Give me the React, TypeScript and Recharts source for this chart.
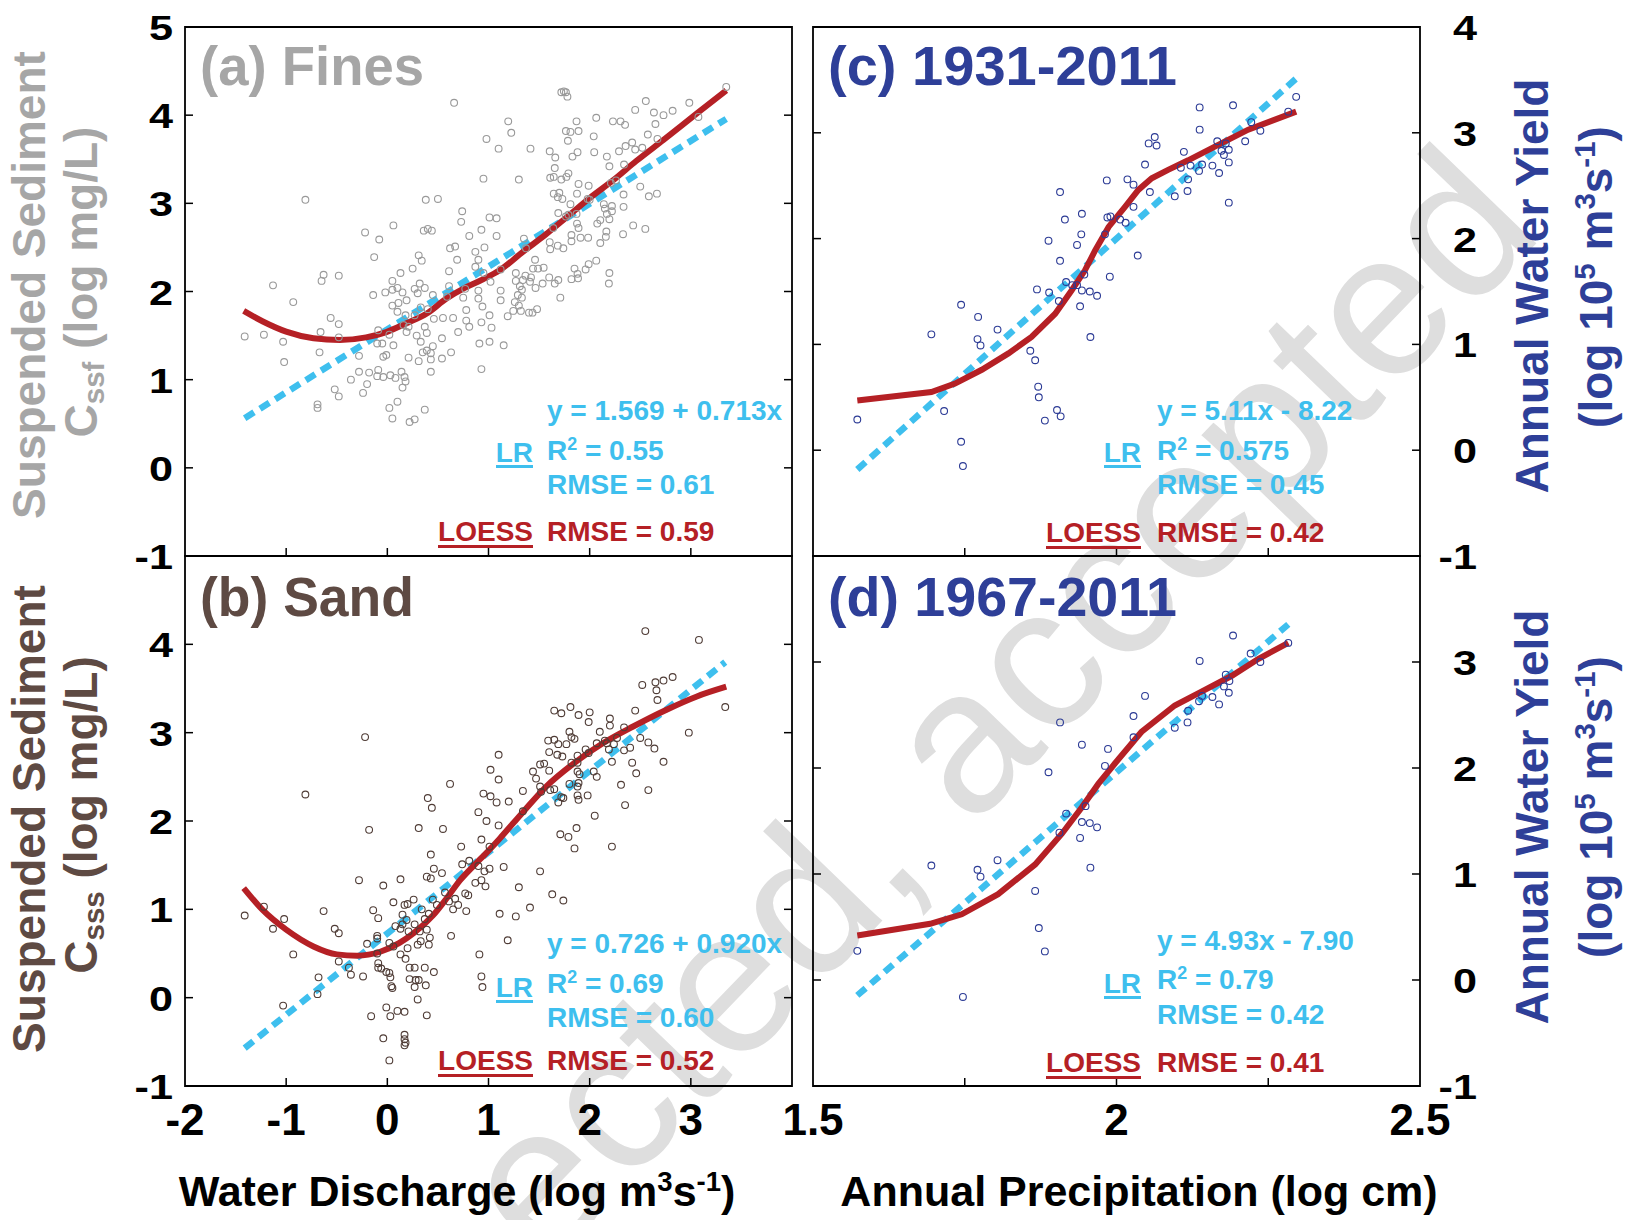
import React from 'react';
import { ComposedChart, Scatter, Line, XAxis, YAxis, ReferenceArea } from 'recharts';

const W = 1628;
const H = 1220;
const FONT = '"Liberation Sans", Arial, Helvetica, sans-serif';
const INK = '#000000';
const CYAN = '#3ebfee';
const RED = '#b52025';
const NAVY = '#2e3f98';
const GRAY = '#a6a6a6';
const BROWN = '#5e4a43';
const TICK = 8;

type Pt = [number, number];

// (a) log water discharge vs log fine-sediment concentration
const FINES: Pt[] = [
  [0.66, 4.14], [0.98, 3.73], [1.1, 3.62], [0.95, 3.28], [-0.81, 3.04], [0.38, 3.04], [0.5, 3.05], [0.74, 2.91],
  [0.73, 2.79], [1.01, 2.84], [1.08, 2.83], [0.06, 2.75], [-0.22, 2.67], [0.36, 2.69], [0.4, 2.71], [0.44, 2.69],
  [0.93, 2.7], [-0.08, 2.59], [0.81, 2.63], [1.08, 2.63], [0.62, 2.49], [0.67, 2.51], [0.96, 2.5], [-0.13, 2.39],
  [0.31, 2.41], [0.34, 2.35], [0.69, 2.36], [0.87, 2.45], [0.9, 2.36], [0.25, 2.26], [0.13, 2.21], [0.61, 2.23],
  [0.87, 2.28], [-0.63, 2.19], [-0.65, 2.12], [-0.48, 2.18], [-1.13, 2.07], [0.05, 2.12], [0.32, 2.09], [-0.02, 1.99],
  [0.05, 2.02], [0.1, 2.04], [0.15, 1.99], [0.27, 2.03], [0.37, 2.04], [0.3, 1.98], [-0.14, 1.96], [0.45, 1.96],
  [0.61, 2.06], [0.77, 2.03], [0.9, 2.01], [1.02, 2.11], [0.95, 2.21], [-0.93, 1.88], [0.05, 1.84], [0.11, 1.87],
  [0.19, 1.9], [0.1, 1.77], [0.18, 1.73], [0.4, 1.8], [0.33, 1.82], [0.59, 1.94], [0.75, 1.93], [0.9, 1.92],
  [0.94, 1.83], [0.78, 1.79], [-0.56, 1.7], [-0.48, 1.63], [0.16, 1.62], [0.27, 1.73], [0.46, 1.69], [0.55, 1.7],
  [0.65, 1.7], [0.78, 1.67], [1.01, 1.73], [0.93, 1.65], [1.03, 1.59], [0.81, 1.6], [0.7, 1.54], [-0.66, 1.54],
  [-0.09, 1.56], [0.02, 1.51], [0.21, 1.6], [0.19, 1.54], [0.29, 1.5], [0.37, 1.6], [0.39, 1.53], [0.54, 1.47],
  [-1.41, 1.49], [-1.22, 1.51], [-1.03, 1.43], [-0.48, 1.48], [-0.1, 1.41], [-0.05, 1.41], [0.06, 1.39], [0.33, 1.43],
  [0.45, 1.38], [0.39, 1.33], [0.91, 1.41], [1.01, 1.43], [-0.67, 1.31], [-0.28, 1.27], [-0.04, 1.26], [-0.01, 1.28],
  [0.21, 1.25], [0.31, 1.21], [0.35, 1.31], [0.43, 1.3], [0.43, 1.23], [0.54, 1.24], [0.63, 1.31], [-1.02, 1.2],
  [0.93, 1.12], [0.43, 1.09], [-0.36, 1.0], [-0.28, 1.09], [-0.18, 1.08], [-0.09, 1.11], [-0.1, 1.04], [-0.04, 1.03],
  [0.03, 1.05], [0.08, 1.02], [0.14, 1.09], [0.17, 1.03], [0.18, 0.98], [0.15, 0.91], [-0.2, 0.95], [-0.24, 0.85],
  [-0.52, 0.89], [-0.48, 0.81], [-0.69, 0.72], [-0.69, 0.68], [0.1, 0.75], [0.02, 0.68], [0.05, 0.56], [0.37, 0.66],
  [0.22, 0.52], [0.27, 0.55],
  [3.35, 4.32], [1.72, 4.26], [1.745, 4.27], [1.765, 4.26], [1.78, 4.21], [2.555, 4.16], [2.985, 4.14], [2.45, 4.06],
  [2.635, 4.03], [2.73, 4.0], [2.82, 4.05], [3.075, 3.98], [1.195, 3.93], [1.87, 3.93], [2.065, 3.97], [2.23, 3.93],
  [2.305, 3.93], [2.35, 3.89], [2.65, 3.9], [1.225, 3.8], [1.765, 3.82], [1.81, 3.81], [1.89, 3.82], [2.04, 3.76],
  [1.785, 3.71], [2.575, 3.78], [2.67, 3.73], [1.415, 3.62], [2.355, 3.65], [2.42, 3.69], [2.45, 3.61], [2.52, 3.63],
  [1.605, 3.59], [1.66, 3.52], [1.83, 3.53], [1.88, 3.58], [2.045, 3.58], [2.17, 3.53], [2.29, 3.59], [2.195, 3.42],
  [1.655, 3.4], [2.34, 3.44], [1.3, 3.27], [1.61, 3.29], [1.645, 3.3], [1.72, 3.27], [1.77, 3.3], [1.79, 3.34],
  [1.89, 3.22], [1.99, 3.2], [2.21, 3.23], [2.26, 3.26], [2.5, 3.19], [1.645, 3.11], [1.7, 3.12], [1.685, 3.07],
  [1.73, 3.05], [1.875, 3.11], [1.98, 3.05], [2.0, 3.04], [2.335, 3.1], [2.585, 3.08], [2.665, 3.11], [1.81, 2.99],
  [2.14, 2.99], [2.22, 2.97], [2.22, 2.91], [2.335, 2.96], [1.69, 2.89], [1.765, 2.85], [1.79, 2.87], [1.87, 2.88],
  [2.15, 2.94], [2.17, 2.88], [1.875, 2.77], [1.89, 2.72], [2.075, 2.77], [2.105, 2.81], [2.195, 2.82], [2.43, 2.75],
  [2.55, 2.71], [2.33, 2.65], [1.64, 2.72], [1.82, 2.64], [1.91, 2.61], [1.985, 2.61], [2.165, 2.68], [2.16, 2.62],
  [1.82, 2.57], [2.105, 2.55], [1.35, 2.6], [1.37, 2.49], [1.605, 2.56], [1.685, 2.52], [1.74, 2.49], [1.61, 2.48],
  [1.46, 2.36], [2.065, 2.35], [1.99, 2.31], [1.12, 2.25], [1.44, 2.26], [1.49, 2.26], [1.545, 2.27], [1.85, 2.26],
  [1.96, 2.25], [2.195, 2.21], [1.88, 2.2], [1.27, 2.21], [1.365, 2.18], [1.34, 2.13], [1.42, 2.16], [1.41, 2.11],
  [1.535, 2.09], [1.6, 2.16], [1.69, 2.13], [1.655, 2.09], [1.82, 2.14], [1.885, 2.15], [2.19, 2.09], [1.31, 2.06],
  [1.33, 2.02], [1.465, 2.04], [1.12, 2.01], [1.12, 1.9], [1.27, 2.12], [1.29, 1.96], [1.33, 1.93], [1.71, 1.93],
  [1.26, 1.88], [1.245, 1.78], [1.3, 1.84], [1.32, 1.78], [1.19, 1.72], [1.4, 1.76], [1.435, 1.76], [1.48, 1.8],
  [1.15, 1.39],
];

// (b) log water discharge vs log sand concentration
const SAND: Pt[] = [
  [-0.22, 2.95], [-0.81, 2.3], [-0.18, 1.9], [0.62, 2.42], [0.4, 2.26], [0.44, 2.15], [0.31, 1.92], [0.55, 1.91],
  [0.9, 2.1], [0.98, 2.0], [0.95, 2.31], [1.02, 2.28], [1.02, 2.58], [1.1, 2.75], [1.1, 2.47], [1.08, 2.21],
  [1.1, 1.95], [0.93, 1.79], [1.01, 1.71], [0.43, 1.62], [0.46, 1.46], [0.54, 1.41], [0.73, 1.71], [0.74, 1.51],
  [0.81, 1.55], [0.39, 1.37], [0.43, 1.35], [-0.28, 1.33], [-0.04, 1.27], [0.13, 1.34], [0.9, 1.49], [0.87, 1.3],
  [0.93, 1.33], [0.97, 1.26], [0.96, 1.43], [1.01, 1.46], [0.77, 1.18], [0.8, 1.16], [0.57, 1.19], [0.61, 1.09],
  [0.67, 1.12], [0.7, 1.05], [0.65, 1.0], [0.78, 0.98], [0.49, 1.05], [0.45, 1.11], [0.26, 1.11], [0.2, 1.06],
  [0.17, 1.05], [0.06, 1.08], [-0.14, 0.99], [-0.09, 0.9], [0.34, 1.0], [0.41, 0.95], [0.37, 0.89], [0.15, 0.94],
  [0.19, 0.88], [0.15, 0.83], [0.27, 0.83], [0.08, 0.81], [0.13, 0.78], [0.21, 0.75], [0.32, 0.75], [0.39, 0.77],
  [0.42, 0.68], [0.33, 0.64], [0.3, 0.6], [0.41, 0.6], [0.2, 0.56], [0.63, 0.7], [-0.1, 0.7], [-0.1, 0.67],
  [-0.2, 0.61], [0.02, 0.62], [0.06, 0.58], [-0.1, 0.5], [0.13, 0.49], [0.18, 0.44], [-0.09, 0.39], [-0.09, 0.34],
  [-0.06, 0.33], [-0.01, 0.29], [0.02, 0.28], [0.03, 0.23], [0.04, 0.13], [0.05, 0.11], [0.22, 0.34], [0.27, 0.34],
  [0.37, 0.34], [0.46, 0.29], [0.22, 0.21], [0.28, 0.2], [0.31, 0.2], [0.27, 0.12], [0.38, 0.14], [0.3, -0.02],
  [0.91, 0.49], [0.93, 0.24], [0.94, 0.12], [1.11, 0.95], [-1.41, 0.93], [-1.22, 1.03], [-1.13, 0.78], [-1.02, 0.89],
  [-0.63, 0.98], [-0.52, 0.78], [-0.48, 0.73], [-0.93, 0.49], [-0.48, 0.41], [-0.38, 0.34], [-0.36, 0.26], [-0.24, 0.24],
  [-0.68, 0.23], [-0.69, 0.04], [-1.03, -0.09], [-0.16, -0.21], [-0.01, -0.11], [0.03, -0.21], [0.1, -0.15], [0.17, -0.16],
  [0.39, -0.2], [-0.04, -0.46], [0.17, -0.42], [0.17, -0.47], [0.18, -0.51], [0.17, -0.54], [0.02, -0.71],
  [2.55, 4.15], [3.08, 4.05], [2.52, 3.54], [2.65, 3.57], [2.73, 3.59], [2.82, 3.63], [2.66, 3.48], [2.67, 3.37],
  [3.34, 3.29], [2.45, 3.25], [1.65, 3.25], [1.72, 3.22], [1.81, 3.29], [1.89, 3.2], [2.0, 3.23], [1.99, 3.12],
  [2.2, 3.16], [2.2, 3.08], [2.34, 3.06], [2.1, 3.01], [2.98, 3.0], [1.59, 2.91], [1.65, 2.92], [1.69, 2.87],
  [1.77, 2.87], [1.8, 3.01], [1.82, 2.95], [1.85, 2.93], [2.07, 2.88], [2.15, 2.91], [2.17, 2.88], [2.27, 2.94],
  [2.24, 2.87], [2.5, 2.94], [2.58, 2.89], [2.64, 2.82], [1.96, 2.81], [1.99, 2.77], [1.6, 2.78], [1.68, 2.75],
  [1.73, 2.73], [1.88, 2.74], [1.82, 2.66], [1.88, 2.66], [2.19, 2.81], [2.34, 2.8], [2.4, 2.83], [2.22, 2.67],
  [2.42, 2.66], [2.46, 2.54], [2.73, 2.67], [1.51, 2.64], [1.55, 2.65], [1.44, 2.56], [1.47, 2.48], [1.6, 2.57],
  [1.88, 2.56], [1.9, 2.53], [2.04, 2.56], [2.07, 2.5], [1.89, 2.43], [1.8, 2.42], [1.88, 2.39], [1.51, 2.39],
  [1.52, 2.33], [1.61, 2.35], [1.65, 2.36], [1.72, 2.27], [1.74, 2.26], [1.69, 2.21], [1.88, 2.29], [1.89, 2.24],
  [1.98, 2.29], [2.31, 2.41], [2.58, 2.35], [2.35, 2.18], [1.34, 2.34], [1.2, 2.22], [1.34, 2.11], [2.05, 2.06],
  [1.87, 1.92], [1.71, 1.85], [1.79, 1.82], [1.85, 1.69], [2.22, 1.71], [1.51, 1.43], [1.15, 1.48], [1.3, 1.25],
  [1.63, 1.17], [1.74, 1.1], [1.41, 1.02], [1.27, 0.92], [1.19, 0.65],
];

// (c) log annual precipitation vs log annual water yield, 1931-2011
const YIELD_1931: Pt[] = [
  [1.573, 0.29], [1.695, 1.095], [1.716, 0.37], [1.744, 1.375], [1.744, 0.08], [1.747, -0.15], [1.772, 1.26],
  [1.771, 1.05], [1.776, 0.99], [1.804, 1.14], [1.858, 0.94], [1.866, 0.85], [1.871, 0.6], [1.872, 0.5],
  [1.882, 0.28], [1.902, 0.38], [1.908, 0.32], [1.869, 1.52], [1.889, 1.49], [1.905, 1.41], [1.888, 1.98],
  [1.907, 1.79], [1.907, 2.44], [1.915, 2.18], [1.917, 1.59], [1.927, 1.56], [1.935, 1.56], [1.943, 1.51],
  [1.947, 1.66], [1.94, 1.36], [1.957, 1.07], [1.956, 1.5], [1.968, 1.46], [1.989, 1.64], [1.942, 2.04],
  [1.935, 1.94], [1.943, 2.235], [1.984, 2.55], [1.981, 2.04], [1.985, 2.2], [1.99, 2.21], [2.006, 2.18],
  [2.015, 2.15], [2.028, 2.3], [2.035, 1.84], [2.018, 2.56], [2.028, 2.51], [2.047, 2.7], [2.055, 2.44],
  [2.053, 2.9], [2.063, 2.96], [2.066, 2.88], [2.096, 2.4], [2.106, 2.67], [2.111, 2.82], [2.118, 2.56],
  [2.117, 2.45], [2.122, 2.69], [2.136, 2.64], [2.137, 3.03], [2.137, 3.24], [2.141, 2.7], [2.158, 2.69],
  [2.169, 2.62], [2.166, 2.92], [2.173, 2.83], [2.177, 2.79], [2.18, 2.9], [2.185, 2.84], [2.185, 2.72],
  [2.185, 2.34], [2.192, 3.26], [2.212, 2.92], [2.222, 3.1], [2.237, 3.02], [2.283, 3.2], [2.296, 3.34],
];

// (d) same relation, 1967-2011
const YIELD_1967: Pt[] = [
  [1.573, 0.275], [1.695, 1.08], [1.747, -0.16], [1.771, 1.04], [1.776, 0.975], [1.804, 1.13], [1.866, 0.84],
  [1.872, 0.49], [1.882, 0.27], [1.888, 1.96], [1.907, 2.43], [1.906, 1.39], [1.917, 1.57], [1.94, 1.34],
  [1.943, 1.49], [1.943, 2.22], [1.949, 1.64], [1.956, 1.48], [1.957, 1.06], [1.968, 1.44], [1.981, 2.02],
  [1.986, 2.18], [2.028, 2.49], [2.028, 2.29], [2.047, 2.68], [2.096, 2.38], [2.117, 2.43], [2.118, 2.54],
  [2.136, 2.63], [2.137, 3.01], [2.141, 2.68], [2.158, 2.67], [2.169, 2.6], [2.177, 2.77], [2.18, 2.88],
  [2.186, 2.82], [2.185, 2.71], [2.192, 3.25], [2.221, 3.08], [2.237, 3.0], [2.283, 3.18],
];

// LOESS smooths
const FINES_LOESS: Pt[] = [
  [-1.42, 1.78], [-1.23, 1.66], [-1.0, 1.545], [-0.73, 1.47], [-0.47, 1.45], [-0.21, 1.48], [-0.01, 1.54],
  [0.19, 1.64], [0.39, 1.75], [0.585, 1.92], [0.78, 2.05], [0.95, 2.14], [1.11, 2.24], [1.34, 2.45], [1.57, 2.65],
  [1.77, 2.84], [2.0, 3.06], [2.23, 3.26], [2.46, 3.48], [2.73, 3.72], [3.06, 4.02], [3.35, 4.28],
];
const SAND_LOESS: Pt[] = [
  [-1.42, 1.24], [-1.23, 0.99], [-1.0, 0.77], [-0.73, 0.58], [-0.5, 0.49], [-0.3, 0.475], [-0.07, 0.52],
  [0.12, 0.62], [0.26, 0.73], [0.45, 0.93], [0.59, 1.13], [0.72, 1.33], [0.85, 1.49], [0.98, 1.64], [1.11, 1.8],
  [1.34, 2.1], [1.57, 2.39], [1.84, 2.65], [2.13, 2.88], [2.43, 3.07], [2.76, 3.26], [3.06, 3.41], [3.35, 3.52],
];
const YIELD_1931_LOESS: Pt[] = [
  [1.573, 0.47], [1.695, 0.55], [1.734, 0.63], [1.778, 0.76], [1.822, 0.915], [1.86, 1.07], [1.899, 1.29],
  [1.926, 1.51], [1.948, 1.7], [1.965, 1.89], [1.987, 2.11], [2.014, 2.3], [2.036, 2.46], [2.058, 2.57],
  [2.085, 2.65], [2.118, 2.74], [2.162, 2.87], [2.217, 3.03], [2.296, 3.2],
];
const YIELD_1967_LOESS: Pt[] = [
  [1.573, 0.42], [1.693, 0.53], [1.745, 0.62], [1.805, 0.81], [1.866, 1.09], [1.91, 1.38], [1.943, 1.63],
  [1.97, 1.85], [1.997, 2.04], [2.041, 2.34], [2.096, 2.59], [2.14, 2.72], [2.19, 2.87], [2.234, 3.03], [2.283, 3.18],
];

// linear regressions as printed: intercept, slope
const FINES_LR = [1.569, 0.713];
const SAND_LR = [0.726, 0.92];
const YIELD_1931_LR = [-8.22, 5.11];
const YIELD_1967_LR = [-7.9, 4.93];

const Q_TICKS = [-2, -1, 0, 1, 2, 3, 4];
const Q_LABELS = [-2, -1, 0, 1, 2, 3];
const P_TICKS = [1.5, 1.75, 2, 2.25, 2.5];
const P_LABELS = [1.5, 2, 2.5];
const C_TICKS = [-1, 0, 1, 2, 3, 4, 5];
const Y_TICKS = [-1, 0, 1, 2, 3, 4];

const toPts = (a: Pt[]) => a.map(([x, y]) => ({ x, y }));

function fitLine(a: Pt[], [b0, b1]: number[]) {
  const xs = a.map((p) => p[0]);
  const lo = Math.min(...xs);
  const hi = Math.max(...xs);
  return [
    { x: lo, y: b0 + b1 * lo },
    { x: hi, y: b0 + b1 * hi },
  ];
}

type PanelProps = {
  box: [number, number, number, number];
  xDomain: [number, number];
  yDomain: [number, number];
  xTicks: number[];
  xLabels: number[];
  yTicks: number[];
  yLabels: number[];
  labelSide: 'left' | 'right';
  points: Pt[];
  dotColor: string;
  loess: Pt[];
  loessType: 'monotone' | 'linear';
  lr: number[];
};

function Panel(p: PanelProps) {
  const [l, t, r, b] = p.box;

  const tickX = (props: any) => {
    const { x, payload } = props;
    const v = payload.value;
    const inner = v > p.xDomain[0] && v < p.xDomain[1];
    return (
      <g>
        {inner && <line x1={x} x2={x} y1={b} y2={b - TICK} stroke={INK} strokeWidth={1.5} />}
        {p.xLabels.includes(v) && (
          <text x={x} y={b + 49} textAnchor="middle" fontFamily={FONT} fontWeight="bold" fontSize={44} fill={INK}>
            {String(v)}
          </text>
        )}
      </g>
    );
  };

  const tickY = (props: any) => {
    const { y, payload } = props;
    const v = payload.value;
    const inner = v > p.yDomain[0] && v < p.yDomain[1];
    const lx = p.labelSide === 'left' ? l - 12 : r + 57;
    return (
      <g>
        {inner && <line x1={l} x2={l + TICK} y1={y} y2={y} stroke={INK} strokeWidth={1.5} />}
        {inner && <line x1={r} x2={r - TICK} y1={y} y2={y} stroke={INK} strokeWidth={1.5} />}
        {p.yLabels.includes(v) && (
          <text
            transform={`translate(${lx},${y + 13}) scale(1.2,1)`}
            textAnchor="end"
            fontFamily={FONT}
            fontWeight="bold"
            fontSize={36}
            fill={INK}
          >
            {String(v)}
          </text>
        )}
      </g>
    );
  };

  // axes get a 1px band so they still render; margins absorb it
  return (
    <div style={{ position: 'absolute', left: 0, top: 0 }}>
      <ComposedChart width={W} height={H} margin={{ top: t, left: l - 1, right: W - r, bottom: H - b - 1 }}>
        <XAxis
          type="number"
          dataKey="x"
          domain={p.xDomain}
          ticks={p.xTicks}
          interval={0}
          height={1}
          tickSize={0}
          tickMargin={0}
          tickLine={false}
          axisLine={false}
          tick={tickX}
          allowDataOverflow
        />
        <YAxis
          type="number"
          dataKey="y"
          domain={p.yDomain}
          ticks={p.yTicks}
          interval={0}
          width={1}
          tickSize={0}
          tickMargin={0}
          tickLine={false}
          axisLine={false}
          tick={tickY}
          allowDataOverflow
        />
        <ReferenceArea
          x1={p.xDomain[0]}
          x2={p.xDomain[1]}
          y1={p.yDomain[0]}
          y2={p.yDomain[1]}
          fill="none"
          stroke={INK}
          strokeWidth={1.8}
          ifOverflow="visible"
        />
        <Scatter
          data={toPts(p.points)}
          isAnimationActive={false}
          shape={(s: any) => <circle cx={s.cx} cy={s.cy} r={3.4} fill="none" stroke={p.dotColor} strokeWidth={1.1} />}
        />
        <Line
          data={fitLine(p.points, p.lr)}
          dataKey="y"
          type="linear"
          stroke={CYAN}
          strokeWidth={6.5}
          strokeDasharray="11 7"
          dot={false}
          activeDot={false}
          isAnimationActive={false}
        />
        <Line
          data={toPts(p.loess)}
          dataKey="y"
          type={p.loessType}
          stroke={RED}
          strokeWidth={6}
          dot={false}
          activeDot={false}
          isAnimationActive={false}
        />
      </ComposedChart>
    </div>
  );
}

type Part = [string, '' | 'sup' | 'sub'];

function Rich({ parts, size, ...rest }: { parts: Part[]; size: number; [k: string]: any }) {
  let shift = 0;
  return (
    <text fontFamily={FONT} fontWeight="bold" fontSize={size} {...rest}>
      {parts.map(([s, kind], i) => {
        const target = kind === 'sup' ? -size * 0.36 : kind === 'sub' ? size * 0.16 : 0;
        const dy = target - shift;
        shift = target;
        return (
          <tspan key={i} dy={dy} fontSize={kind ? size * 0.64 : size}>
            {s}
          </tspan>
        );
      })}
    </text>
  );
}

function VTitle({ x, cy, parts, color }: { x: number; cy: number; parts: Part[]; color: string }) {
  return <Rich parts={parts} size={46} fill={color} textAnchor="middle" transform={`translate(${x},${cy}) rotate(-90)`} />;
}

type StatRows = { eq: number; r2: number; lr: number; rmse: number; lo: number };

function Stats({ lx, vx, rows, eq, r2, rmse, loess }: { lx: number; vx: number; rows: StatRows; eq: string; r2: string; rmse: string; loess: string }) {
  const fs = 28;
  const common = { fontFamily: FONT, fontWeight: 'bold', fontSize: fs } as const;
  return (
    <g>
      <text x={vx} y={rows.eq} fill={CYAN} {...common}>{eq}</text>
      <text x={lx} y={rows.lr} fill={CYAN} textAnchor="end" {...common}>LR</text>
      <rect x={lx - 37} y={rows.lr + 3} width={37} height={3} fill={CYAN} />
      <Rich parts={[['R', ''], ['2', 'sup'], [` = ${r2}`, '']]} size={fs} x={vx} y={rows.r2} fill={CYAN} />
      <text x={vx} y={rows.rmse} fill={CYAN} {...common}>{`RMSE = ${rmse}`}</text>
      <text x={lx} y={rows.lo} fill={RED} textAnchor="end" {...common}>LOESS</text>
      <rect x={lx - 95} y={rows.lo + 4} width={95} height={3} fill={RED} />
      <text x={vx} y={rows.lo} fill={RED} {...common}>{`RMSE = ${loess}`}</text>
    </g>
  );
}

const DISCHARGE_TITLE: Part[] = [['Water Discharge (log m', ''], ['3', 'sup'], ['s', ''], ['-1', 'sup'], [')', '']];
const YIELD_UNITS: Part[] = [['(log 10', ''], ['5', 'sup'], [' m', ''], ['3', 'sup'], ['s', ''], ['-1', 'sup'], [')', '']];

export default function App() {
  const LEFT_X: [number, number] = [-2, 4];
  const RIGHT_X: [number, number] = [1.5, 2.5];
  return (
    <div style={{ position: 'absolute', left: 0, top: 0, width: W, height: H, background: '#ffffff', overflow: 'hidden' }}>
      <svg width={W} height={H} style={{ position: 'absolute', left: 0, top: 0 }}>
        <text
          x={545}
          y={1270}
          fontFamily={FONT}
          fontSize={204}
          fill="#dedede"
          transform="rotate(-46 545 1270)"
        >
          ected, accepted
        </text>
      </svg>

      <Panel
        box={[185, 27, 792, 556]}
        xDomain={LEFT_X}
        yDomain={[-1, 5]}
        xTicks={Q_TICKS}
        xLabels={[]}
        yTicks={C_TICKS}
        yLabels={C_TICKS}
        labelSide="left"
        points={FINES}
        dotColor="#999999"
        loess={FINES_LOESS}
        loessType="monotone"
        lr={FINES_LR}
      />
      <Panel
        box={[185, 556, 792, 1086]}
        xDomain={LEFT_X}
        yDomain={[-1, 5]}
        xTicks={Q_TICKS}
        xLabels={Q_LABELS}
        yTicks={C_TICKS}
        yLabels={[-1, 0, 1, 2, 3, 4]}
        labelSide="left"
        points={SAND}
        dotColor="#4f3c36"
        loess={SAND_LOESS}
        loessType="monotone"
        lr={SAND_LR}
      />
      <Panel
        box={[813, 27, 1420, 556]}
        xDomain={RIGHT_X}
        yDomain={[-1, 4]}
        xTicks={P_TICKS}
        xLabels={[]}
        yTicks={Y_TICKS}
        yLabels={Y_TICKS}
        labelSide="right"
        points={YIELD_1931}
        dotColor="#2b3a95"
        loess={YIELD_1931_LOESS}
        loessType="linear"
        lr={YIELD_1931_LR}
      />
      <Panel
        box={[813, 556, 1420, 1086]}
        xDomain={RIGHT_X}
        yDomain={[-1, 4]}
        xTicks={P_TICKS}
        xLabels={P_LABELS}
        yTicks={Y_TICKS}
        yLabels={[-1, 0, 1, 2, 3]}
        labelSide="right"
        points={YIELD_1967}
        dotColor="#2b3a95"
        loess={YIELD_1967_LOESS}
        loessType="linear"
        lr={YIELD_1967_LR}
      />

      <svg width={W} height={H} style={{ position: 'absolute', left: 0, top: 0, pointerEvents: 'none' }}>
        <g fontFamily={FONT} fontWeight="bold" fontSize={56}>
          <text x={200} y={85} fill={GRAY} textLength={224} lengthAdjust="spacingAndGlyphs">(a) Fines</text>
          <text x={200} y={616} fill={BROWN} textLength={214} lengthAdjust="spacingAndGlyphs">(b) Sand</text>
          <text x={828} y={85} fill={NAVY} textLength={349} lengthAdjust="spacingAndGlyphs">(c) 1931-2011</text>
          <text x={828} y={616} fill={NAVY} textLength={349} lengthAdjust="spacingAndGlyphs">(d) 1967-2011</text>
        </g>

        <Rich parts={DISCHARGE_TITLE} size={43} x={457} y={1206} textAnchor="middle" fill={INK} />
        <Rich parts={[['Annual Precipitation (log cm)', '']]} size={43} x={1139} y={1206} textAnchor="middle" fill={INK} />

        <VTitle x={45} cy={285} color={GRAY} parts={[['Suspended Sediment', '']]} />
        <VTitle x={97} cy={282} color={GRAY} parts={[['C', ''], ['ssf', 'sub'], [' (log mg/L)', '']]} />
        <VTitle x={45} cy={819} color={BROWN} parts={[['Suspended Sediment', '']]} />
        <VTitle x={97} cy={815} color={BROWN} parts={[['C', ''], ['sss', 'sub'], [' (log mg/L)', '']]} />
        <VTitle x={1548} cy={286} color={NAVY} parts={[['Annual Water Yield', '']]} />
        <VTitle x={1612} cy={277} color={NAVY} parts={YIELD_UNITS} />
        <VTitle x={1548} cy={817} color={NAVY} parts={[['Annual Water Yield', '']]} />
        <VTitle x={1612} cy={807} color={NAVY} parts={YIELD_UNITS} />

        <Stats lx={533} vx={547} rows={{ eq: 420, r2: 460, lr: 462, rmse: 494, lo: 541 }} eq="y = 1.569 + 0.713x" r2="0.55" rmse="0.61" loess="0.59" />
        <Stats lx={533} vx={547} rows={{ eq: 953, r2: 993, lr: 997, rmse: 1027, lo: 1070 }} eq="y = 0.726 + 0.920x" r2="0.69" rmse="0.60" loess="0.52" />
        <Stats lx={1141} vx={1157} rows={{ eq: 420, r2: 460, lr: 462, rmse: 494, lo: 542 }} eq="y = 5.11x - 8.22" r2="0.575" rmse="0.45" loess="0.42" />
        <Stats lx={1141} vx={1157} rows={{ eq: 950, r2: 989, lr: 993, rmse: 1024, lo: 1072 }} eq="y = 4.93x - 7.90" r2="0.79" rmse="0.42" loess="0.41" />
      </svg>
    </div>
  );
}
